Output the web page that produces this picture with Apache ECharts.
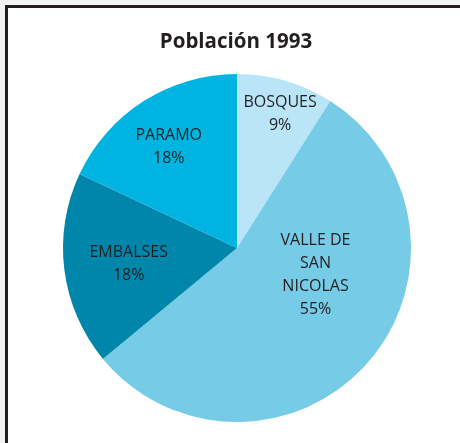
<!DOCTYPE html>
<html>
<head>
<meta charset="utf-8">
<script src="https://cdn.jsdelivr.net/npm/echarts@6/dist/echarts.min.js"></script>
<style>
  html, body { margin: 0; padding: 0; background: #f3f3f3; }
  #frame {
    position: absolute; left: 5px; top: 5px; width: 460px; height: 435px;
    background: #fff; border-left: 3px solid #231f20; border-top: 3px solid #231f20;
    border-bottom: 1px solid #c8c8c8;
  }
  #chart { position: absolute; left: 0; top: 0; width: 460px; height: 443px; }
</style>
</head>
<body>
<div id="frame"></div>
<div id="chart"></div>
<script>
const titleText = "Población 1993";
const categories = ["BOSQUES", "VALLE DE\nSAN\nNICOLAS", "EMBALSES", "PARAMO"];
const values = [9, 55, 18, 18];
const colors = ["#bae4f8", "#76cbe6", "#0086ab", "#00b4e1"];
// label nudges from the default inside position
const labelShift = [[18, -48], [11, -33], [-19, 5], [-20, -25]];

const chart = echarts.init(document.getElementById("chart"));

chart.setOption({
  backgroundColor: "transparent",
  title: {
    text: titleText,
    left: 231,
    top: 27,
    textAlign: "center",
    textStyle: { fontFamily: "Open Sans", fontWeight: "bold", fontSize: 20.5, color: "#231f20" }
  },
  series: [
    {
      type: "pie",
      center: [237, 248],
      radius: 174,
      startAngle: 90,
      clockwise: true,
      silent: true,
      data: categories.map((name, i) => ({
        name: name,
        value: values[i],
        itemStyle: { color: colors[i] }
      })),
      label: {
        position: "inside",
        formatter: "{b}\n{d}%",
        fontFamily: "Open Sans",
        fontSize: 16,
        lineHeight: 23,
        color: "#231f20"
      },
      labelLine: { show: false },
      labelLayout: params => ({
        dx: labelShift[params.dataIndex][0],
        dy: labelShift[params.dataIndex][1]
      })
    }
  ]
});
</script>
</body>
</html>
